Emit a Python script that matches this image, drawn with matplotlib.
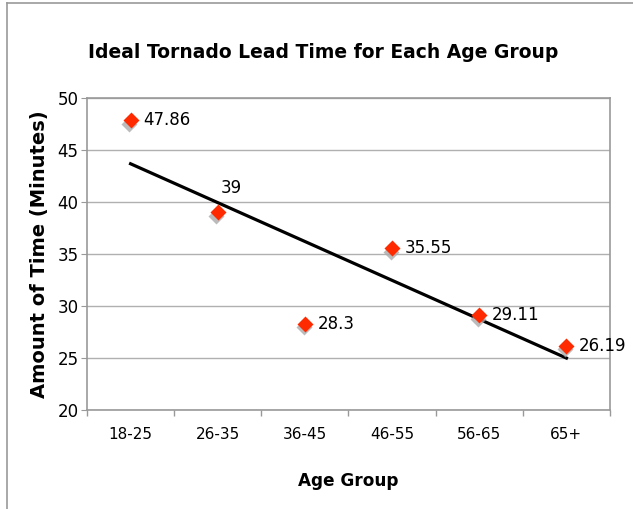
import numpy as np
import matplotlib.pyplot as plt
from matplotlib.lines import Line2D
import matplotlib.transforms as mtransforms

# data
age_groups = ['18-25', '26-35', '36-45', '46-55', '56-65', '65+']
lead_time = [47.86, 39, 28.3, 35.55, 29.11, 26.19]
labels = ['47.86', '39', '28.3', '35.55', '29.11', '26.19']

plt.rcParams['font.family'] = 'DejaVu Sans'

fig = plt.figure(figsize=(6.33, 5.09), dpi=100)
ax = fig.add_axes([87/633, 99/509, 523/633, 312/509])

x = np.arange(len(age_groups))

# trend line (linear fit)
k, b = np.polyfit(x, lead_time, 1)
ax.plot(x, k*x + b, color='black', lw=2.3, zorder=3)

# markers with shadow
shadow = mtransforms.offset_copy(ax.transData, fig=fig, x=-1, y=-2.5, units='points')
ax.plot(x, lead_time, 'D', color='#aaaaaa', ms=8.5, mec='none', transform=shadow, zorder=4, alpha=0.8)
ax.plot(x, lead_time, 'D', color='#ff2a00', ms=8.5, mec='none', zorder=5)

# data labels
for i, (v, t) in enumerate(zip(lead_time, labels)):
    if t == '39':
        ax.annotate(t, (i, v), xytext=(2, 11), textcoords='offset points',
                    fontsize=12, va='bottom', ha='left')
    else:
        ax.annotate(t, (i, v), xytext=(9, 0), textcoords='offset points',
                    fontsize=12, va='center', ha='left')

ax.set_xlim(-0.5, len(age_groups) - 0.5)
ax.set_ylim(20, 50)
ax.set_yticks(range(20, 51, 5))
ax.set_xticks(x)
ax.set_xticklabels(age_groups, fontsize=11)
ax.set_xticks(np.arange(-0.5, len(age_groups)), minor=True)
ax.tick_params(axis='x', which='major', length=0, pad=12)
ax.tick_params(axis='x', which='minor', length=4, color='#999999', width=1)
ax.tick_params(axis='y', length=4, color='#999999', labelsize=12, pad=2)

ax.grid(axis='y', color='#b0b0b0', lw=1)
ax.set_axisbelow(True)
for s in ax.spines.values():
    s.set_color('#999999')
    s.set_linewidth(1.2)

fig.text(323/633, 1 - 52/509, 'Ideal Tornado Lead Time for Each Age Group',
         fontsize=13.5, fontweight='bold', ha='center', va='center')
ax.set_xlabel('Age Group', fontsize=12.2, fontweight='bold', labelpad=22)
ax.set_ylabel('Amount of Time (Minutes)', fontsize=14, fontweight='bold', labelpad=6)

# outer frame (left and top edges)
fig.add_artist(Line2D([6.5/633, 6.5/633], [0, 1 - 3/509], color='#999999', lw=1.2))
fig.add_artist(Line2D([6.5/633, 1], [1 - 3/509, 1 - 3/509], color='#999999', lw=1.2))

plt.savefig('out.png', dpi=100)
